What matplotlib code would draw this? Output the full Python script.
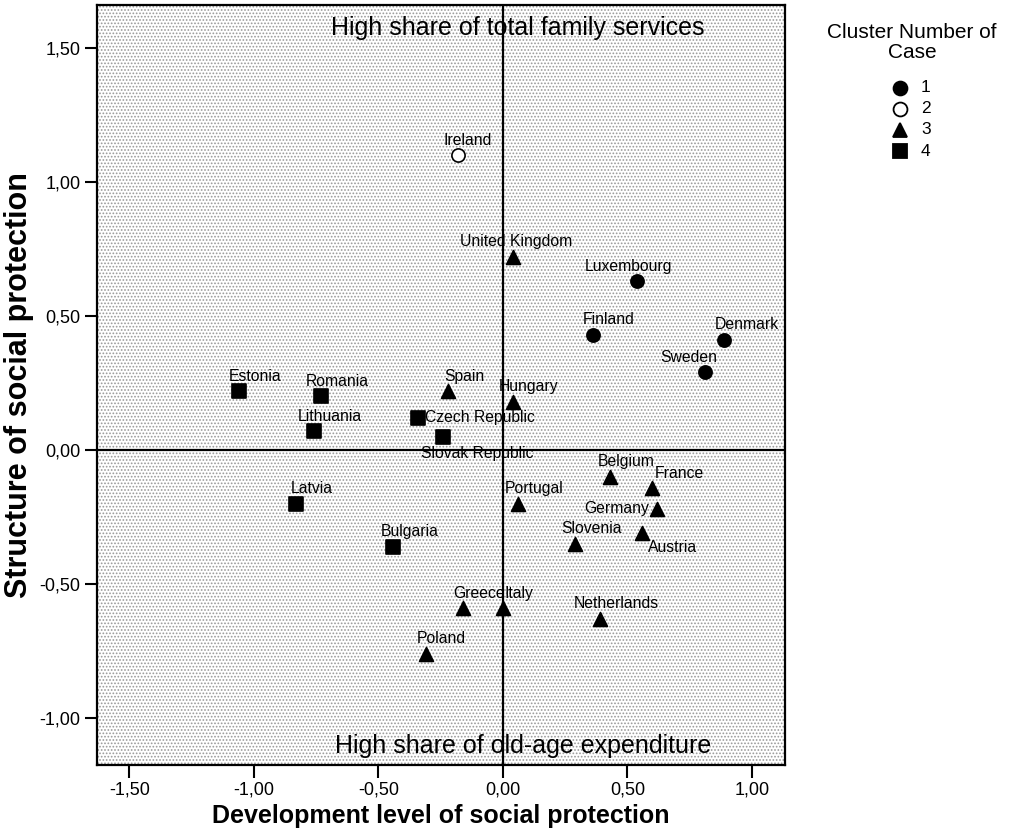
import matplotlib
matplotlib.use("Agg")
import matplotlib.pyplot as plt
from matplotlib.patches import Rectangle
from matplotlib.lines import Line2D
from matplotlib.ticker import FuncFormatter

plt.rcParams['font.family'] = ['Liberation Sans', 'DejaVu Sans']
plt.rcParams['hatch.linewidth'] = 0.8

# Factor scores per country and the cluster each one falls into
countries = ["Ireland", "United Kingdom", "Luxembourg", "Denmark", "Finland", "Sweden",
             "Estonia", "Romania", "Lithuania", "Spain", "Hungary", "Czech Republic",
             "Slovak Republic", "Latvia", "Bulgaria", "Belgium", "France", "Portugal",
             "Germany", "Austria", "Slovenia", "Greece", "Italy", "Netherlands", "Poland"]
development = [-0.18, 0.04, 0.54, 0.89, 0.36, 0.81,
               -1.06, -0.73, -0.76, -0.22, 0.04, -0.34,
               -0.24, -0.83, -0.44, 0.43, 0.60, 0.06,
               0.62, 0.56, 0.29, -0.16, 0.00, 0.39, -0.31]
structure = [1.10, 0.72, 0.63, 0.41, 0.43, 0.29,
             0.22, 0.20, 0.07, 0.22, 0.18, 0.12,
             0.05, -0.20, -0.36, -0.10, -0.14, -0.20,
             -0.22, -0.31, -0.35, -0.59, -0.59, -0.63, -0.76]
cluster = [2, 3, 1, 1, 1, 1,
           4, 4, 4, 3, 3, 4,
           4, 4, 4, 3, 3, 3,
           3, 3, 3, 3, 3, 3, 3]

cluster_ids = [1, 2, 3, 4]
x_ticks = [-1.5, -1.0, -0.5, 0.0, 0.5, 1.0]
y_ticks = [-1.0, -0.5, 0.0, 0.5, 1.0, 1.5]

markers = {1: 'o', 2: 'o', 3: '^', 4: 's'}
faces = {1: 'black', 2: 'white', 3: 'black', 4: 'black'}

# label placement in pixels relative to the marker (dx, dy, ha)
default_off = (16, 15, 'center')
label_off = {
    "Ireland": (10, 15, 'center'),
    "United Kingdom": (3, 15, 'center'),
    "Luxembourg": (-9, 15, 'center'),
    "Denmark": (22, 16, 'center'),
    "Sweden": (-16, 15, 'center'),
    "France": (27, 14, 'center'),
    "Czech Republic": (7, 0, 'left'),
    "Germany": (-8, 0, 'right'),
    "Slovak Republic": (34, -17, 'center'),
    "Austria": (30, -14, 'center'),
}

fig = plt.figure(figsize=(10.16, 8.36), dpi=100)
ax = fig.add_axes([97 / 1016, 71 / 836, 688 / 1016, 760 / 836])

# stippled background
ax.set_facecolor('white')
bg = Rectangle((0, 0), 1, 1, transform=ax.transAxes, facecolor='white',
               edgecolor='#999999', hatch='.....', linewidth=0, zorder=0)
ax.add_patch(bg)

ax.axhline(0, color='black', lw=1.6, zorder=1)
ax.axvline(0, color='black', lw=1.6, zorder=1)

for c in cluster_ids:
    xs = [x for x, k in zip(development, cluster) if k == c]
    ys = [y for y, k in zip(structure, cluster) if k == c]
    size = 90 if markers[c] != '^' else 100
    ax.scatter(xs, ys, marker=markers[c], s=size, facecolor=faces[c],
               edgecolor='black', linewidth=1.2, zorder=3)

for name, x, y in zip(countries, development, structure):
    dx, dy, ha = label_off.get(name, default_off)
    ax.annotate(name, (x, y), xytext=(dx, dy), textcoords='offset pixels',
                ha=ha, va='center', fontsize=11.3, zorder=4)

ax.text(0.06, 1.575, "High share of total family services", ha='center', va='center',
        fontsize=18, zorder=4)
ax.text(0.08, -1.13, "High share of old-age expenditure", ha='center', va='baseline',
        fontsize=18, zorder=4)

comma = FuncFormatter(lambda v, p: f"{v:.2f}".replace('.', ','))
ax.set_xticks(x_ticks)
ax.set_yticks(y_ticks)
ax.xaxis.set_major_formatter(comma)
ax.yaxis.set_major_formatter(comma)
ax.set_xlim(-1.63, 1.133)
ax.set_ylim(-1.175, 1.66)
ax.tick_params(direction='out', length=9, width=1.5, labelsize=13, pad=3)
for s in ax.spines.values():
    s.set_linewidth(1.6)

ax.set_xlabel("Development level of social protection", fontsize=18,
              fontweight='bold', labelpad=4)
ax.set_ylabel("Structure of social protection", fontsize=22,
              fontweight='bold', labelpad=4)

# legend drawn beside the axes
fig.text(912 / 1016, 1 - 32 / 836, "Cluster Number of", ha='center', va='center', fontsize=15)
fig.text(912 / 1016, 1 - 53 / 836, "Case", ha='center', va='center', fontsize=15)
for i, c in enumerate(cluster_ids):
    yy = 1 - (88 + 21 * i) / 836
    fig.add_artist(Line2D([900 / 1016], [yy], marker=markers[c], markersize=10,
                          markerfacecolor=faces[c], markeredgecolor='black',
                          markeredgewidth=1.3, linestyle='none',
                          transform=fig.transFigure))
    fig.text(921 / 1016, yy, str(c), ha='left', va='center', fontsize=12.5)

fig.savefig("out.png", dpi=100)
